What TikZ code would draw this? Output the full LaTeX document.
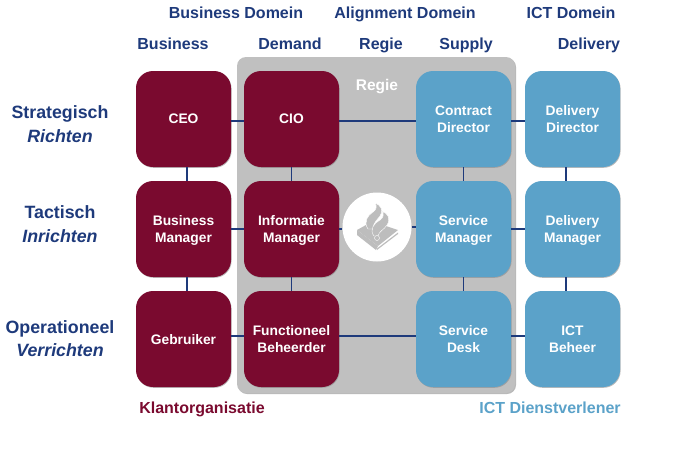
\documentclass[tikz,border=0pt]{standalone}
\usepackage{fontspec}
\setmainfont{Liberation Sans}
\usepackage{tikz}
\usetikzlibrary{shadows}
\definecolor{klantred}{HTML}{7A0A2F}
\definecolor{ictblue}{HTML}{5BA2C9}
\definecolor{inknavy}{HTML}{1E3A7B}
\definecolor{regiegray}{HTML}{C0C0C0}
\definecolor{logogray}{HTML}{BDBDBD}
\begin{document}
\begin{tikzpicture}[x=1pt, y=-1pt,
  klant/.style={rounded corners=17pt, fill=klantred, minimum width=95pt, minimum height=96pt, inner sep=0pt, text=white, align=center, text depth=-2pt, font=\fontsize{13.8}{16.5}\selectfont\bfseries, drop shadow={shadow xshift=0.6pt, shadow yshift=-0.8pt, fill=black!45, opacity=0.6}},
  ict/.style={klant, fill=ictblue},
  link/.style={draw=inknavy, line width=1.3pt},
  head/.style={text=inknavy, inner sep=0pt, text height=12pt, text depth=3.5pt, font=\fontsize{16}{19}\selectfont\bfseries},
  layer/.style={head, font=\fontsize{17.8}{20}\selectfont\bfseries},
  activity/.style={layer, font=\fontsize{17.8}{20}\selectfont\bfseries\itshape},
  flame/.style={fill=logogray, draw=white, line width=0.4pt}]
\useasboundingbox (0,0) rectangle (680,453);
\node[rounded corners=9pt, fill=regiegray, minimum width=278pt, minimum height=336pt, inner sep=0pt, drop shadow={shadow xshift=1pt, shadow yshift=-1pt, fill=black!55}] (regiebox) at (376,225) {};
\node[inner sep=0pt, text=white, text depth=0pt, font=\fontsize{15.5}{17}\selectfont\bfseries] (regie) at (377,85) {Regie};
\node[circle, fill=white, minimum size=69pt, inner sep=0pt] (logo) at (377,227) {};
% logo
\fill[logogray] (357,230) -- (366,225) -- (386,226) -- (398,230) -- (378,246) -- cycle;
\fill[logogray] (357,230) -- (357,235) -- (376,250) -- (378,246) -- cycle;
\fill[logogray] (377,250) -- (398,234) -- (398,232.5) -- (377,248.5) -- cycle;
\filldraw[flame] (368,229) .. controls (363,222) and (368,215) .. (373,212) .. controls (377,209) and (377,206) .. (375,203) .. controls (381,205) and (384,211) .. (380,216) .. controls (377,220) and (373,223) .. (373,229) -- cycle;
\filldraw[flame] (374,236) .. controls (369,230) and (374,223) .. (380,220) .. controls (384,217) and (384,214) .. (382,211.5) .. controls (388,213) and (391,219) .. (387,225) .. controls (384,230) and (379,231) .. (378,236) -- cycle;
\filldraw[flame] (377,238) circle (2.5pt);
% boxes
\node[klant] (CEO) at (183.5,119) {CEO};
\node[klant] (BM) at (183.5,229) {Business\\Manager};
\node[klant] (GB) at (183.5,339) {Gebruiker};
\node[klant] (CIO) at (291.5,119) {CIO};
\node[klant] (IM) at (291.5,229) {Informatie\\Manager};
\node[klant] (FB) at (291.5,339) {Functioneel\\Beheerder};
\node[ict] (CD) at (463.5,119) {Contract\\Director};
\node[ict] (SM) at (463.5,229) {Service\\Manager};
\node[ict] (SD) at (463.5,339) {Service\\Desk};
\node[ict] (DD) at (572.5,119) {Delivery\\Director};
\node[ict] (DM) at (572.5,229) {Delivery\\Manager};
\node[ict] (IB) at (572.5,339) {ICT\\Beheer};
% links
\foreach \a/\b in {CEO/CIO,CIO/CD,CD/DD} {
  \draw[link] ([yshift=-2pt]\a.east) -- ([yshift=-2pt]\b.west);
}
\foreach \a/\b in {BM/IM,IM/logo,logo/SM,SM/DM} {
  \draw[link] (\a.east) -- (\a.east -| \b.west);
}
\foreach \a/\b in {GB/FB,FB/SD,SD/IB} {
  \draw[link] ([yshift=3pt]\a.east) -- ([yshift=3pt]\b.west);
}
\foreach \a/\b in {CEO/BM,BM/GB} {
  \draw[link] ([xshift=3.5pt]\a.south) -- ([xshift=3.5pt]\b.north);
}
\foreach \a/\b in {CIO/IM,IM/FB,CD/SM,SM/SD} {
  \draw[link] (\a.south) -- (\b.north);
}
\foreach \a/\b in {DD/DM,DM/IB} {
  \draw[link] ([xshift=-6.5pt]\a.south) -- ([xshift=-6.5pt]\b.north);
}
% labels
\node[head] (bd) at (236,14) {Business Domein};
\node[head] (ad) at (405,14) {Alignment Domein};
\node[head] (id) at (571,14) {ICT Domein};
\node[head] (business) at (173,45.5) {Business};
\node[head] (demand) at (290,45.5) {Demand};
\node[head] (regiehead) at (381,45.5) {Regie};
\node[head] (supply) at (466,45.5) {Supply};
\node[head] (delivery) at (589,45.5) {Delivery};
\node[layer] (s) at (60,114) {Strategisch};
\node[activity] (sa) at (60,138) {Richten};
\node[layer] (t) at (60,214) {Tactisch};
\node[activity] (ta) at (60,238) {Inrichten};
\node[layer] (o) at (60,329) {Operationeel};
\node[activity] (oa) at (60,352) {Verrichten};
\node[head, text=klantred] (klantorg) at (202,409) {Klantorganisatie};
\node[head, text=ictblue] (ictdv) at (550,409) {ICT Dienstverlener};
\end{tikzpicture}
\end{document}
